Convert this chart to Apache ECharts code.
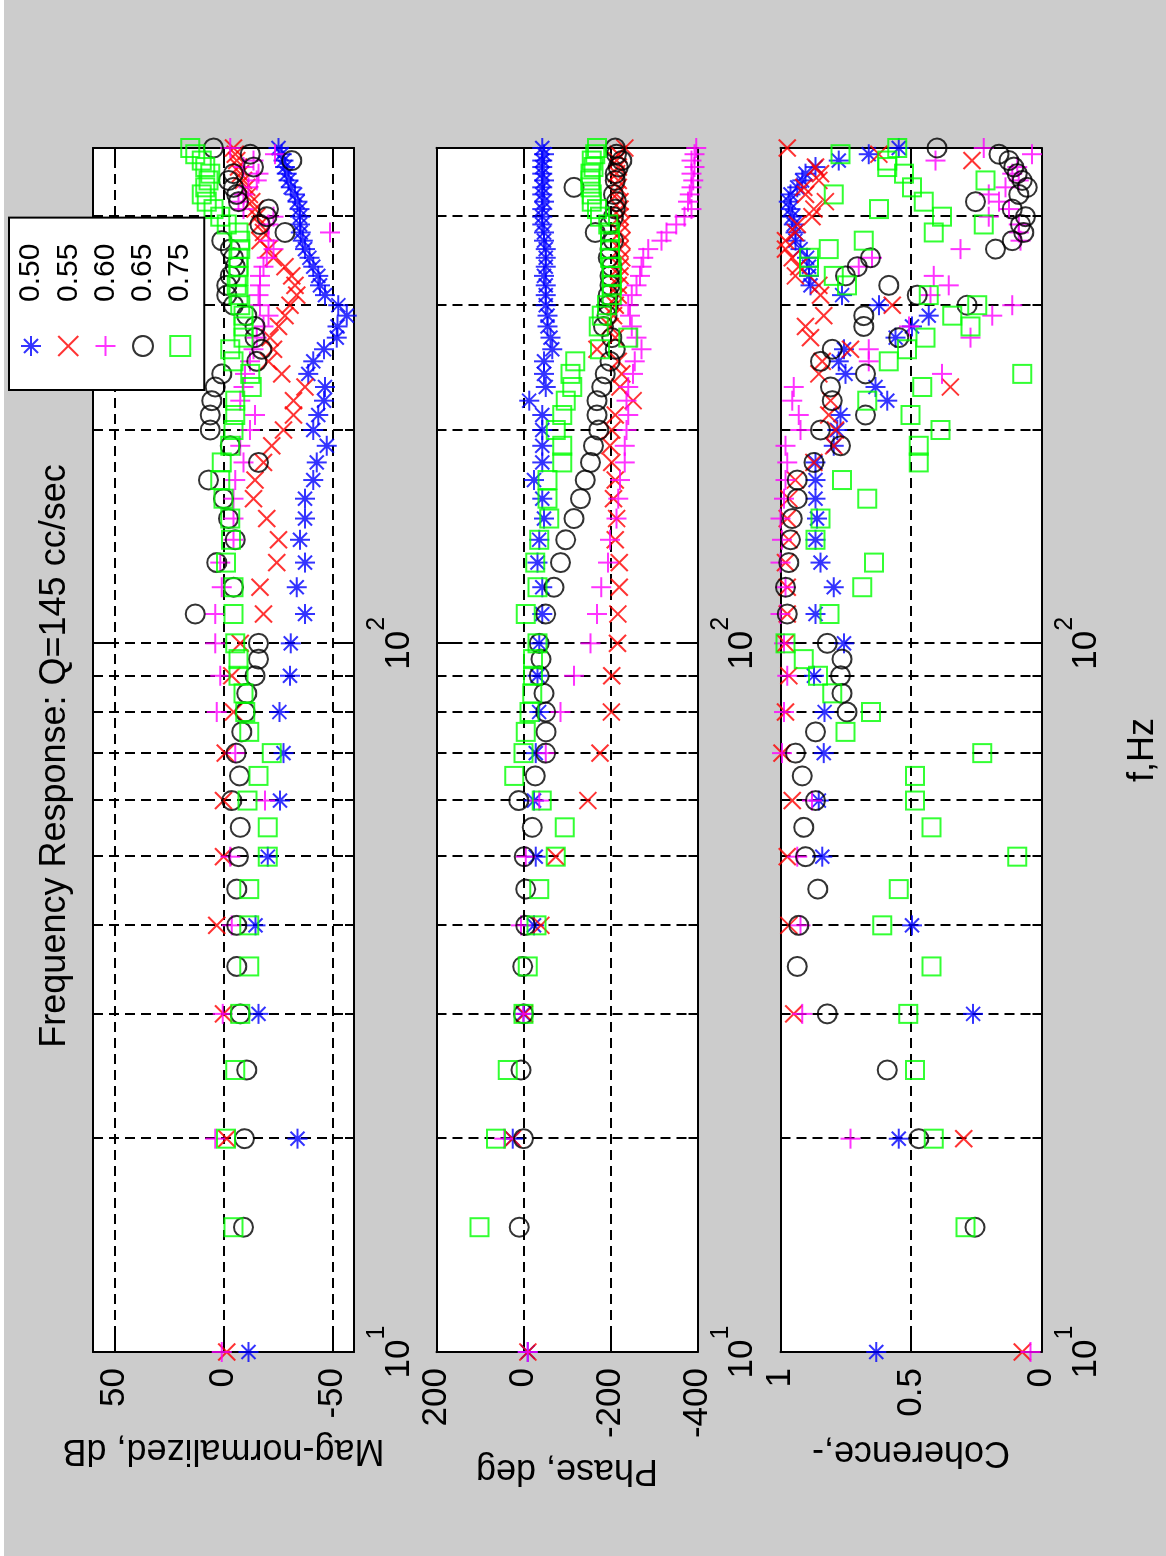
<!DOCTYPE html>
<html><head><meta charset="utf-8">
<script src="https://cdn.jsdelivr.net/npm/echarts@6/dist/echarts.min.js"></script>
<style>
html,body{margin:0;padding:0;background:#cccccc;width:1166px;height:1556px;overflow:hidden;}
#wrap{position:absolute;left:0;top:0;width:1556px;height:1166px;transform-origin:0 0;transform:translateY(1556px) rotate(-90deg);}
#chart{width:1556px;height:1166px;}
#edge{position:absolute;left:0;top:0;width:4px;height:1556px;background:#ffffff;}
</style></head>
<body><div id="wrap"><div id="chart"></div></div><div id="edge"></div>
<script>
// ---------------- DATA ----------------
const freqA = [10,20,30,40,50,60,70,80,90,100,110,120,130,140,150,160,170,180,190,200,210,220,230,240,250,260,270,280,290,300,310,320,330,340,350,360,370,380,390,400,410,420,430,440,450,460,470,480,490,500];
const freqB = [15,20,25,30,35,40,45,50,55,60,65,70,75,80,85,90,95,100,110,120,130,140,150,160,170,180,190,200,210,220,230,240,250,260,270,280,290,300,310,320,330,340,350,360,370,380,390,400,410,420,430,440,450,460,470,480,490,500];
const seriesNames = ['0.50','0.55','0.60','0.65','0.75'];
const freqTickLabels = [10, 100];
const freqGridValues = [20,30,40,50,60,70,80,90,100,200,300,400];
const magTicks = [-50, 0, 50];
const phaseTicks = [-400, -200, 0, 200];
const cohTicks = [0, 0.5, 1];

const magQ050 = [-11.5,-34.0,-16.1,-14.7,-20.4,-26.0,-27.6,-25.7,-30.6,-30.9,-37.5,-33.7,-37.5,-35.2,-37.5,-37.5,-41.3,-42.9,-47.5,-41.3,-43.6,-46.2,-46.7,-39.0,-41.3,-46.2,-52.1,-52.4,-56.7,-52.8,-46.7,-44.4,-43.6,-41.3,-39.5,-37.5,-36.4,-35.5,-35.2,-35.2,-34.9,-34.0,-32.9,-30.9,-29.9,-29.1,-28.3,-27.6,-26.8,-25.3];
const magQ055 = [-1.5,-1.5,0,3.1,0,0,-0.8,-4.6,-3.8,-7.7,-18.4,-16.8,-24.5,-25.3,-19.9,-13.8,-14.5,-18.4,-22.2,-27.6,-32.2,-32.2,-37.5,-26.8,-20.7,-23.0,-21.4,-25.3,-28.3,-30.6,-33.7,-32.9,-31.4,-28.3,-23.0,-20.7,-16.8,-18.4,-16.8,-15.3,-14.5,-13.0,-11.9,-10.7,-9.2,-7.8,-6.9,-6.1,-5.4,-4.6];
const magQ060 = [0.8,3.8,0.3,-3.8,-3.1,-19.1,-5.4,3.1,1.5,3.8,3.8,0.8,1.5,-4.6,-4.6,-4.6,-5.4,-9.2,-7.7,-12.2,-14.5,-7.7,-9.2,-9.9,-12.2,-13.8,-15.3,-18.4,-20.7,-16.8,-16.1,-16.8,-16.8,-18.4,-19.9,-23.0,-20.7,-49.0,-20.7,-23.0,-9.2,-6.9,-9.2,-11.5,-15.3,-16.1,-9.2,-13.8,-23.7,-3.1];
const magQ065 = [-9.2,-9.7,-10.7,-7.7,-6.1,-6.1,-6.1,-6.9,-7.7,-3.8,-7.4,-5.8,-8.4,-10.0,-10.7,-14.5,-16.1,-16.1,13.0,-4.6,3.1,-5.4,-2.3,0,6.9,-16.1,-3.1,6.1,6.1,5.4,3.8,0.8,-15.3,-17.6,-14.5,-14.5,-10.7,-4.6,-1.5,-1.5,-3.1,-5.4,-4.6,-3.1,0.8,-28.3,-16.8,-19.9,-20.7,-6.9,-6.1,-4.6,-2.3,-4.6,-13.8,-31.4,-12.3,4.6];
const magQ075 = [-4.6,-1.1,-5.4,-7.7,-11.8,-11.8,-11.8,-20.4,-20.4,-11.0,-16.1,-22.2,-11.8,-10.0,-9.2,-6.9,-6.9,-5.4,-4.6,-4.6,-1.2,-3.4,-3.1,0,1.5,0.8,-3.1,-4.6,-5.4,-5.4,-13.0,-12.3,-4.6,-3.1,-9.2,-9.2,-9.2,-7.7,-6.9,-6.1,-6.9,-6.9,-6.9,-7.7,-7.7,-6.9,-1.5,1.5,4.6,7.7,10.0,8.4,6.9,6.1,8.4,10.0,13.0,15.3];

const phQ050 = [-10,25,0,-24,-28,-24,-28,-36,-32,-36,-43,-43,-32,-36,-47,-43,-24,-43,-43,-43,-43,-13,-51,-47,-47,-66,-62,-55,-55,-51,-51,-51,-47,-51,-51,-51,-47,-47,-43,-43,-43,-47,-43,-43,-47,-43,-43,-43,-47,-43];
const phQ055 = [-10,25,-2,-40,-74,-148,-176,-202,-203,-216,-217,-220,-220,-211,-214,-207,-211,-203,-199,-203,-211,-252,-222,-226,-218,-169,-211,-199,-207,-211,-218,-218,-222,-222,-226,-222,-226,-222,-226,-222,-222,-222,-214,-218,-218,-214,-218,-214,-218,-233];
const phQ060 = [-10,44,0,6,-5,-36,-51,-85,-116,-154,-169,-179,-194,-199,-214,-218,-222,-233,-233,-237,-241,-237,-241,-252,-256,-271,-260,-249,-245,-241,-249,-260,-268,-271,-275,-287,-317,-329,-351,-370,-386,-378,-382,-386,-390,-386,-393,-386,-393,-397];
const phQ065 = [10,0,6,0,2,-5,-5,-1.5,-20,11,-27,-51,-52,-51,-47,-36,-40,-36,-51,-70,-85,-97,-116,-131,-142,-154,-161,-173,-169,-169,-180,-188,-199,-211,-203,-184,-192,-195,-195,-199,-199,-203,-195,-199,-207,-165,-199,-207,-211,-214,-207,-116,-211,-211,-218,-226,-214,-211];
const phQ075 = [101,63,36,0,-10,-30,-36,-74,-95,-42,21,0,-5,-14,-20,-22,-22,-32,-5,-32,-27,-36,-59,-55,-55,-89,-89,-74,-89,-97,-112,-108,-119,-176,-241,-173,-180,-192,-203,-203,-203,-203,-199,-199,-199,-199,-195,-176,-169,-157,-157,-154,-154,-154,-161,-157,-165,-169];

const cohQ050 = [0.633,0.547,0.262,0.496,0.84,0.853,0.834,0.831,0.872,0.757,0.866,0.796,0.847,0.866,0.86,0.866,0.866,0.866,0.796,0.783,0.77,0.591,0.636,0.751,0.777,0.757,0.559,0.496,0.432,0.623,0.764,0.885,0.891,0.891,0.898,0.923,0.943,0.943,0.949,0.955,0.962,0.968,0.962,0.936,0.917,0.904,0.866,0.777,0.662,0.547];
const cohQ055 = [0.074,0.298,0.949,0.968,0.974,0.955,0.994,0.981,0.968,0.981,0.974,0.974,0.981,0.968,0.974,0.968,0.943,0.872,0.796,0.789,0.815,0.808,0.349,0.853,0.84,0.732,0.885,0.904,0.834,0.572,0.847,0.853,0.943,0.93,0.955,0.981,0.981,0.943,0.936,0.879,0.872,0.828,0.904,0.911,0.853,0.847,0.866,0.266,0.623,0.974];
const cohQ060 = [0.042,0.732,0.917,0.923,0.936,0.879,0.994,0.987,0.974,0.987,1.0,0.981,1.0,0.994,1.0,0.987,0.981,0.974,0.981,0.923,0.93,0.955,0.949,0.381,0.662,0.662,0.272,0.508,0.189,0.112,0.425,0.355,0.413,0.70,0.649,0.31,0.08,0.087,0.087,0.202,0.125,0.163,0.202,0.138,0.087,0.112,0.093,0.406,0.036,0.221];
const cohQ065 = [0.255,0.47,0.591,0.821,0.936,0.93,0.857,0.904,0.911,0.866,0.917,0.943,0.866,0.745,0.764,0.77,0.764,0.821,0.974,0.981,0.968,0.962,0.955,0.936,0.936,0.872,0.77,0.847,0.674,0.802,0.808,0.674,0.847,0.802,0.547,0.681,0.681,0.285,0.476,0.585,0.751,0.706,0.655,0.176,0.112,0.068,0.08,0.061,0.112,0.253,0.087,0.055,0.074,0.093,0.106,0.125,0.163,0.40];
const cohQ075 = [0.291,0.413,0.485,0.511,0.421,0.61,0.547,0.093,0.421,0.485,0.485,0.227,0.751,0.653,0.802,0.856,0.911,0.981,0.812,0.687,0.642,0.866,0.847,0.668,0.764,0.47,0.47,0.387,0.502,0.668,0.457,0.074,0.585,0.515,0.444,0.272,0.342,0.246,0.432,0.745,0.796,0.891,0.891,0.815,0.681,0.413,0.221,0.381,0.623,0.451,0.796,0.496,0.215,0.527,0.591,0.591,0.77,0.553];

// ---------------- STYLE ----------------
const FONT = "'Liberation Sans', Arial, Helvetica, sans-serif";
const STAR = 'path://M10,0L10,20M0,10L20,10M3,3L17,17M17,3L3,17';
const XMARK = 'path://M0,0L20,20M20,0L0,20';
const PLUS = 'path://M10,0L10,20M0,10L20,10';
const markers = [
  {color:'#0000ff', symbol:STAR, size:20},
  {color:'#ff0000', symbol:XMARK, size:17},
  {color:'#ff00ff', symbol:PLUS, size:20},
  {color:'#000000', symbol:'circle', size:19},
  {color:'#00ff00', symbol:'rect', size:18}
];
const panels = [
  {vals:[magQ050,magQ055,magQ060,magQ065,magQ075], min:-60, max:60, ticks:magTicks, name:'Mag-normalized, dB', nameGap:80},
  {vals:[phQ050,phQ055,phQ060,phQ065,phQ075], min:-400, max:200, ticks:phaseTicks, name:'Phase, deg', nameGap:100},
  {vals:[cohQ050,cohQ055,cohQ060,cohQ065,cohQ075], min:0, max:1, ticks:cohTicks, name:'Coherence,-', nameGap:82}
];
const GRID_TOP = [93, 436.5, 780.5];
const GRID_H = 261, GRID_L = 204, GRID_W = 1204;
const black = {color:'#000', width:2};
const dashed = {color:'#000', width:2, type:[10,6]};

const grids = [], xAxes = [], yAxes = [], series = [];
panels.forEach((p, g) => {
  grids.push({left:GRID_L, top:GRID_TOP[g], width:GRID_W, height:GRID_H, show:true, backgroundColor:'#ffffff', borderWidth:0});
  const base = {type:'log', logBase:10, min:10, max:500, gridIndex:g, axisPointer:{show:false}, minorTick:{show:false}, minorSplitLine:{show:false}};
  xAxes.push(Object.assign({}, base, {
    position:'bottom',
    axisLine:{show:true, onZero:false, lineStyle:black},
    axisTick:{show:true, inside:true, length:9, customValues:freqGridValues, lineStyle:black},
    splitLine:{show:true, lineStyle:dashed},
    axisLabel:{show:true, customValues:freqTickLabels, margin:11,
      formatter: v => '{b|10}{s|' + Math.round(Math.log10(v)) + '}',
      rich:{
        b:{fontSize:35, fontFamily:FONT, color:'#000', lineHeight:68},
        s:{fontSize:25, fontFamily:FONT, color:'#000', lineHeight:25, verticalAlign:'top'}
      }},
    name: g === 2 ? 'f,Hz' : '', nameLocation:'middle', nameGap:84,
    nameTextStyle:{fontSize:36, color:'#000', fontFamily:FONT}
  }));
  xAxes.push(Object.assign({}, base, {position:'bottom', axisLine:{show:false, onZero:false},
    axisTick:{show:true, inside:true, length:18, customValues:[100], lineStyle:black},
    splitLine:{show:false}, axisLabel:{show:false}}));
  xAxes.push(Object.assign({}, base, {position:'top', axisLine:{show:true, onZero:false, lineStyle:black},
    axisTick:{show:true, inside:true, length:9, customValues:freqGridValues, lineStyle:black},
    splitLine:{show:false}, axisLabel:{show:false}}));
  xAxes.push(Object.assign({}, base, {position:'top', axisLine:{show:false, onZero:false},
    axisTick:{show:true, inside:true, length:18, customValues:[100], lineStyle:black},
    splitLine:{show:false}, axisLabel:{show:false}}));
  yAxes.push({type:'value', gridIndex:g, position:'left', min:p.min, max:p.max,
    axisLine:{show:true, onZero:false, lineStyle:black},
    axisTick:{show:true, inside:true, length:18, customValues:p.ticks, lineStyle:black},
    splitLine:{show:true, lineStyle:dashed},
    axisLabel:{show:true, customValues:p.ticks, fontSize:35, color:'#000', fontFamily:FONT, margin:16, showMinLabel:true, showMaxLabel:true},
    name:p.name, nameLocation:'middle', nameGap:p.nameGap,
    nameTextStyle:{fontSize:36, color:'#000', fontFamily:FONT}});
  yAxes.push({type:'value', gridIndex:g, position:'right', min:p.min, max:p.max,
    axisLine:{show:true, onZero:false, lineStyle:black},
    axisTick:{show:true, inside:true, length:18, customValues:p.ticks, lineStyle:black},
    splitLine:{show:false}, axisLabel:{show:false}});
  p.vals.forEach((vals, k) => {
    const fr = k < 3 ? freqA : freqB;
    series.push({
      type:'scatter', name:seriesNames[k], xAxisIndex:4*g, yAxisIndex:2*g,
      data: fr.map((f, i) => [f, vals[i]]),
      symbol:markers[k].symbol, symbolSize:markers[k].size,
      itemStyle:{color:'rgba(0,0,0,0)', borderColor:markers[k].color, borderWidth:2},
      emphasis:{disabled:true}, silent:true, clip:false, animation:false
    });
  });
});

const option = {
  backgroundColor:'#cccccc',
  animation:false,
  title:{text:'Frequency Response: Q=145 cc/sec', left:795, top:32, textAlign:'center',
    textStyle:{fontSize:36, fontWeight:'normal', color:'#000', fontFamily:FONT}},
  legend:{show:true, orient:'vertical', left:1166, top:9, padding:[7,26,9,33], itemGap:7.3,
    itemWidth:20, itemHeight:20, backgroundColor:'#ffffff', borderColor:'#000', borderWidth:2,
    selectedMode:false,
    textStyle:{fontSize:30, color:'#000', fontFamily:FONT, lineHeight:30,
      rich:{t:{fontSize:30, color:'#000', fontFamily:FONT, lineHeight:30, padding:[0,0,0,29]}}},
    formatter: n => '{t|' + n + '}',
    data: seriesNames.map((n, k) => ({name:n, icon:markers[k].symbol,
      itemStyle:{color:'rgba(0,0,0,0)', borderColor:markers[k].color, borderWidth:2}}))
  },
  grid:grids, xAxis:xAxes, yAxis:yAxes, series:series
};
const chart = echarts.init(document.getElementById('chart'), null, {renderer:'canvas', width:1556, height:1166});
chart.setOption(option);
</script></body></html>
